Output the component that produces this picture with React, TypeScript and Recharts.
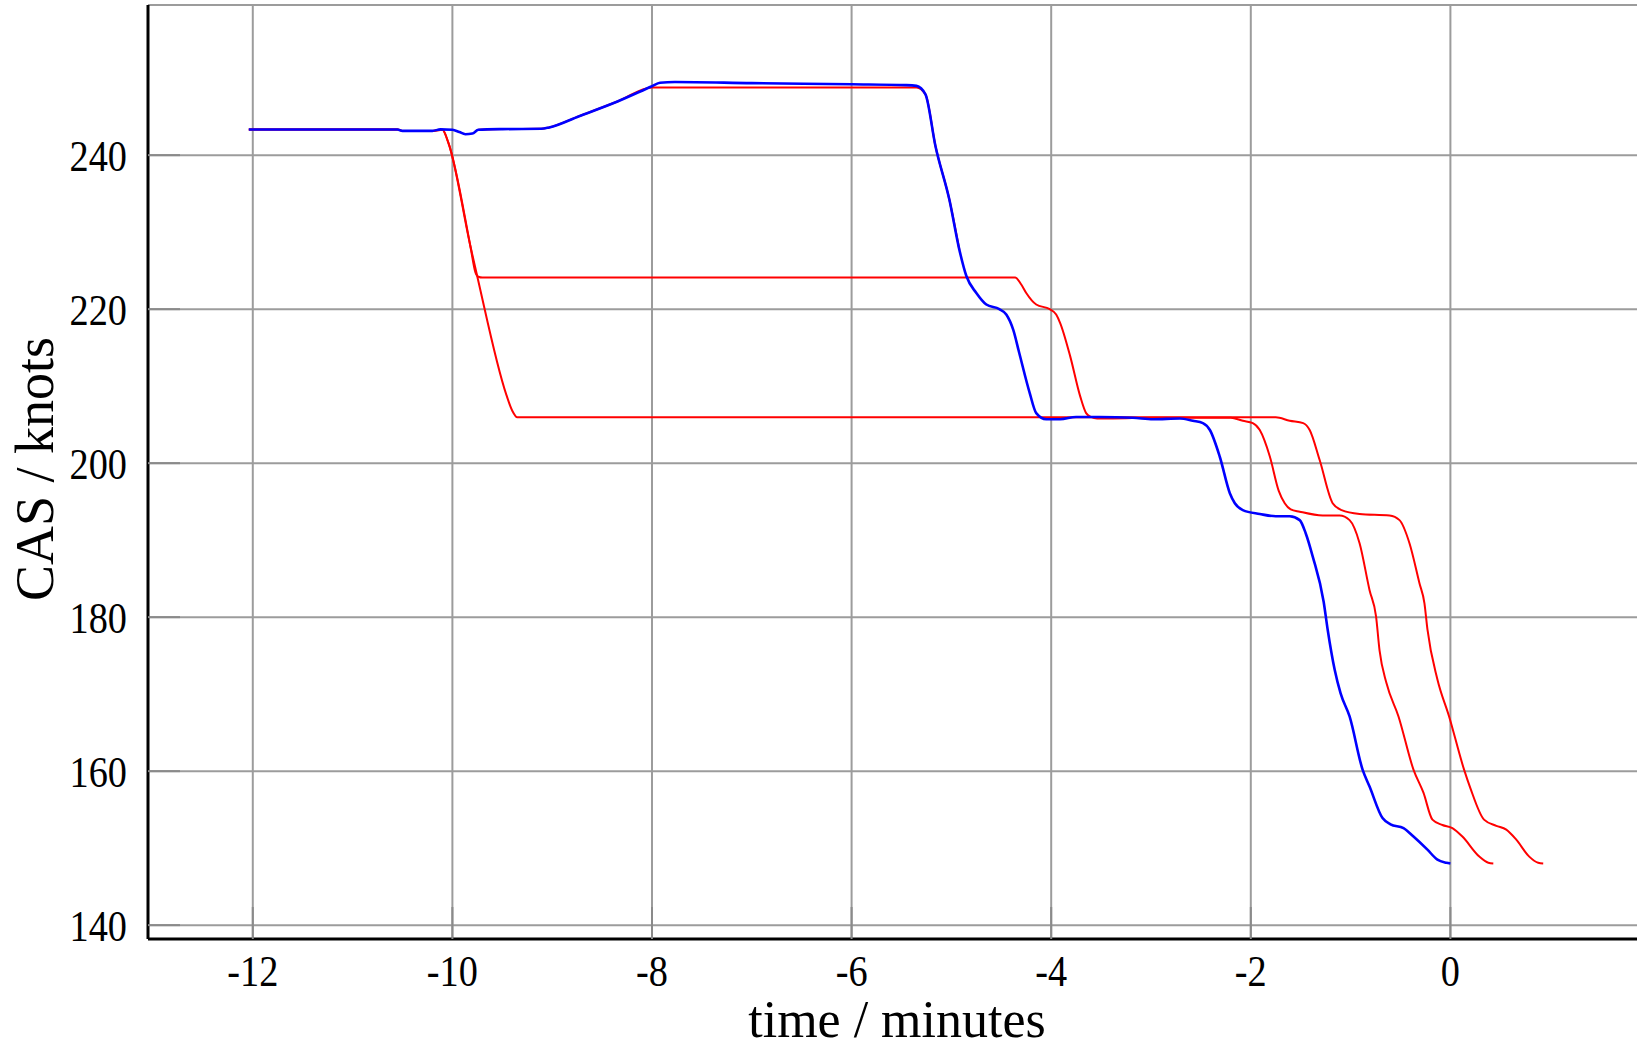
import React from 'react';
import { LineChart, Line, XAxis, YAxis, CartesianGrid } from 'recharts';

// ---- data (time in minutes, CAS in knots) ----
const xTicks = [-12, -10, -8, -6, -4, -2, 0];
const yTicks = [140, 160, 180, 200, 220, 240];

const blueT = [-12.04, -10.55, -10.5, -10.2, -10.12, -10.0, -9.93, -9.87, -9.8, -9.74, -9.5, -9.11, -9.03, -8.73, -8.34, -8.0, -7.92, -7.77, -7.0, -6.0, -5.45, -5.35, -5.26, -5.16, -5.02, -4.92, -4.85, -4.75, -4.65, -4.52, -4.45, -4.38, -4.32, -4.215, -4.15, -4.05, -3.91, -3.75, -3.52, -3.18, -2.98, -2.71, -2.58, -2.48, -2.41, -2.31, -2.21, -2.16, -2.08, -1.91, -1.75, -1.61, -1.51, -1.45, -1.38, -1.27, -1.23, -1.16, -1.1, -1.01, -0.88, -0.81, -0.68, -0.6, -0.47, -0.37, -0.23, -0.13, -0.04, 0.0];
const blueV = [243.33, 243.33, 243.15, 243.15, 243.35, 243.3, 243.0, 242.72, 242.8, 243.3, 243.38, 243.42, 243.6, 245.06, 247.0, 248.95, 249.4, 249.5, 249.35, 249.2, 249.1, 249.0, 247.9, 241.2, 234.2, 227.7, 224.3, 222.1, 220.6, 220.0, 219.3, 217.3, 214.3, 209.1, 206.5, 205.7, 205.7, 206.0, 206.0, 205.9, 205.7, 205.8, 205.5, 205.2, 204.3, 200.8, 196.1, 194.8, 193.9, 193.4, 193.1, 193.1, 192.6, 190.9, 187.9, 182.0, 178.4, 173.2, 170.1, 167.1, 160.2, 158.0, 153.9, 153.1, 152.6, 151.5, 149.8, 148.5, 148.1, 148.0];

const red1T = [-9.74, -9.5, -9.11, -9.03, -8.73, -8.34, -8.0, -5.35, -5.26, -5.16, -5.02, -4.92];
const red1V = [243.3, 243.38, 243.42, 243.6, 245.06, 247.0, 248.8, 248.8, 247.9, 241.2, 234.2, 227.7];

const red2T = [-12.04, -10.55, -10.5, -10.2, -10.1, -10.04, -9.82, -9.77, -9.74, -9.7, -4.36, -4.3, -4.25, -4.15, -4.015, -3.95, -3.91, -3.81, -3.71, -3.65, -3.6, -3.54, -3.38, -3.0, -2.2, -2.08, -1.98, -1.91, -1.81, -1.72, -1.66, -1.6, -1.51, -1.28, -1.11, -1.01, -0.91, -0.81, -0.745, -0.71, -0.64, -0.52, -0.37, -0.27, -0.18, -0.08, 0.02, 0.12, 0.29, 0.38, 0.43];
const red2V = [243.33, 243.33, 243.15, 243.15, 243.3, 241.6, 228.2, 224.8, 224.2, 224.1, 224.1, 223.2, 222.1, 220.6, 220.0, 219.3, 218.2, 213.9, 208.7, 206.5, 206.0, 205.8, 205.8, 205.9, 205.9, 205.5, 205.2, 204.3, 200.9, 196.4, 194.8, 194.0, 193.7, 193.2, 193.2, 192.6, 189.6, 183.5, 180.1, 175.7, 171.4, 167.1, 160.2, 157.2, 153.7, 153.0, 152.6, 151.5, 148.9, 148.1, 148.0];

const red3T = [-12.04, -10.55, -10.5, -10.2, -10.1, -10.04, -9.82, -9.75, -9.46, -9.4, -9.35, -3.0, -1.75, -1.61, -1.475, -1.41, -1.31, -1.18, -1.09, -0.91, -0.61, -0.51, -0.41, -0.31, -0.26, -0.23, -0.13, -0.013, 0.137, 0.2, 0.337, 0.46, 0.56, 0.66, 0.79, 0.88, 0.93];
const red3V = [243.33, 243.33, 243.15, 243.15, 243.3, 241.6, 228.2, 224.2, 208.9, 206.8, 205.95, 205.95, 205.95, 205.5, 205.2, 204.3, 200.4, 194.8, 193.9, 193.4, 193.2, 192.6, 189.6, 184.4, 181.8, 178.4, 171.9, 167.1, 160.2, 157.8, 153.7, 152.9, 152.4, 151.1, 148.9, 148.1, 148.0];

const toRows = (ts: number[], vs: number[]) => ts.map((t, i) => ({ t, v: vs[i] }));
const blueData = toRows(blueT, blueV);
const red1Data = toRows(red1T, red1V);
const red2Data = toRows(red2T, red2V);
const red3Data = toRows(red3T, red3V);

const FONT = '"Liberation Serif", "Times New Roman", Times, serif';
const X_DOMAIN: [number, number] = [-13.05, 2.0];
const Y_DOMAIN: [number, number] = [138.2, 259.5];

const XTick = (props: any) => {
  const { x, y, payload } = props;
  return (
    <text
      x={x}
      y={y}
      dy="0.71em"
      textAnchor="middle"
      fontFamily={FONT}
      fontSize={44}
      fill="#000"
      transform={`translate(${x},0) scale(0.87,1) translate(${-x},0)`}
    >
      {payload.value}
    </text>
  );
};

const YTick = (props: any) => {
  const { x, y, payload } = props;
  return (
    <text
      x={x}
      y={y}
      dy="0.355em"
      textAnchor="end"
      fontFamily={FONT}
      fontSize={44}
      fill="#000"
      transform={`translate(${x},0) scale(0.87,1) translate(${-x},0)`}
    >
      {payload.value}
    </text>
  );
};

export default function App() {
  return (
    <div
      style={{
        position: 'absolute',
        left: 0,
        top: 0,
        width: 1637,
        height: 1048,
        overflow: 'hidden',
        background: '#fff',
      }}
    >
      <LineChart
        width={1660}
        height={1048}
        margin={{ top: 5, right: 10, left: 0, bottom: 0 }}
      >
        <CartesianGrid stroke="#9c9c9c" strokeWidth={2} verticalPoints={undefined} />
        <XAxis
          type="number"
          dataKey="t"
          domain={X_DOMAIN}
          ticks={xTicks}
          allowDataOverflow
          height={109}
          axisLine={{ stroke: '#000', strokeWidth: 3 }}
          tickSize={-32}
          tickMargin={48}
          tickLine={{ stroke: '#8a8a8a', strokeWidth: 2 }}
          tick={<XTick />}
          interval={0}
          label={{
            content: () => (
              <text
                x={897}
                y={1037}
                textAnchor="middle"
                fontFamily={FONT}
                fontSize={52}
                fill="#000"
              >
                time / minutes
              </text>
            ),
          }}
        />
        <XAxis
          xAxisId="top"
          orientation="top"
          type="number"
          dataKey="t"
          domain={X_DOMAIN}
          ticks={xTicks}
          allowDataOverflow
          height={0}
          axisLine={{ stroke: '#000', strokeWidth: 3 }}
          tickSize={-32}
          tickLine={{ stroke: '#8a8a8a', strokeWidth: 2 }}
          tick={false}
        />
        <YAxis
          type="number"
          domain={Y_DOMAIN}
          ticks={yTicks}
          allowDataOverflow
          width={148}
          axisLine={{ stroke: '#000', strokeWidth: 3 }}
          tickSize={-32}
          tickMargin={53}
          tickLine={{ stroke: '#8a8a8a', strokeWidth: 2 }}
          tick={<YTick />}
          interval={0}
          label={{
            content: () => (
              <text
                x={53}
                y={469}
                textAnchor="middle"
                fontFamily={FONT}
                fontSize={54}
                fill="#000"
                transform="rotate(-90, 53, 469)"
              >
                CAS / knots
              </text>
            ),
          }}
        />
        <YAxis
          yAxisId="right"
          orientation="right"
          type="number"
          domain={Y_DOMAIN}
          ticks={yTicks}
          allowDataOverflow
          width={0}
          axisLine={{ stroke: '#000', strokeWidth: 3 }}
          tickSize={-32}
          tickLine={{ stroke: '#8a8a8a', strokeWidth: 2 }}
          tick={false}
        />
        <Line data={red1Data} dataKey="v" type="monotone" stroke="#ff0000" strokeWidth={2} dot={false} isAnimationActive={false} />
        <Line data={red2Data} dataKey="v" type="monotone" stroke="#ff0000" strokeWidth={2} dot={false} isAnimationActive={false} />
        <Line data={red3Data} dataKey="v" type="monotone" stroke="#ff0000" strokeWidth={2} dot={false} isAnimationActive={false} />
        <Line data={blueData} dataKey="v" type="monotone" stroke="#0000ff" strokeWidth={2.6} dot={false} isAnimationActive={false} />
      </LineChart>
    </div>
  );
}
